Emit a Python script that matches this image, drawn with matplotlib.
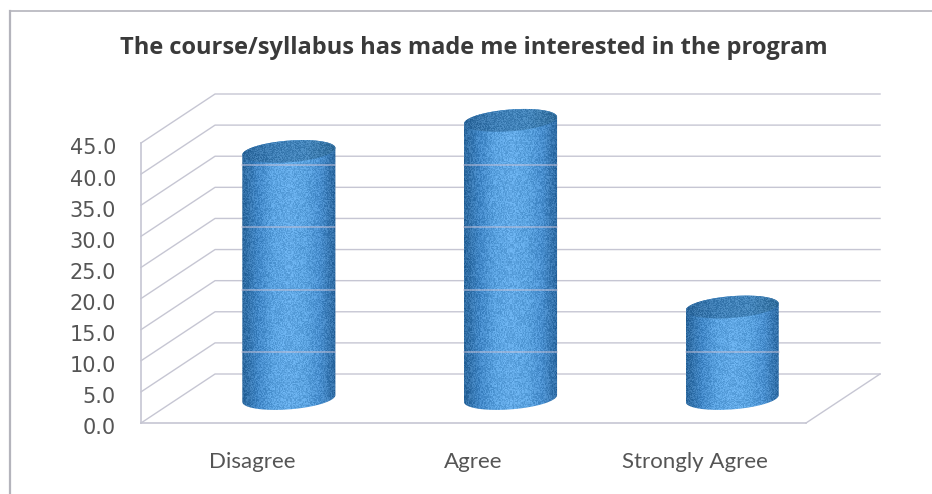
import numpy as np
import matplotlib
matplotlib.use('Agg')
import matplotlib.pyplot as plt
from matplotlib.colors import LinearSegmentedColormap
from matplotlib.lines import Line2D
from matplotlib.patches import Polygon
from matplotlib.transforms import ScaledTranslation

# data
categories = ['Disagree', 'Agree', 'Strongly Agree']
values = [39.7, 44.7, 14.7]
y_ticks = [0, 5, 10, 15, 20, 25, 30, 35, 40, 45]
band_levels = [7.5, 17.5, 27.5, 37.5]   # pale rings on the cylinders

# 3D look: how far the back wall is shifted from the front plane (data units)
depth_x = 0.334
depth_y = 7.875
half_w = 0.21
ell_b = 1.75
ell_tilt = 0.55

grid_col = '#c6c6d3'
side_cmap = LinearSegmentedColormap.from_list(
    'side', ['#2d699f', '#4288c8', '#5aa2e0', '#62a9e6', '#5ba3e0', '#4a90d0', '#2e6aa2'])
top_cmap = LinearSegmentedColormap.from_list(
    'top', ['#2f6a9f', '#3f7fb6', '#4485bb', '#336f9e'])

W, H = 932, 494
fig = plt.figure(figsize=(W / 100, H / 100), dpi=100, facecolor='white')
ax = fig.add_axes([141 / W, (H - 423) / H, 665 / W, 280 / H])
ax.set_xlim(-0.5, 2.5)
ax.set_ylim(0, 45)
ax.patch.set_visible(False)

for s in ['top', 'right']:
    ax.spines[s].set_visible(False)
for s in ['left', 'bottom']:
    ax.spines[s].set_color(grid_col)
    ax.spines[s].set_linewidth(1.2)

ax.set_yticks(y_ticks)
ax.set_yticklabels([f'{v:.1f}' for v in y_ticks], fontsize=15, color='#555555',
                   family='DejaVu Sans')
ax.set_xticks(range(len(categories)))
ax.set_xticklabels(categories, fontsize=16, color='#555555', family='Lato')
ax.tick_params(axis='y', length=0, pad=18)
ax.tick_params(axis='x', length=0, pad=21)

# y labels sit a little below their level in the scan
nudge = ScaledTranslation(0, -2.5 / 72, fig.dpi_scale_trans)
for lab in ax.get_yticklabels():
    lab.set_transform(lab.get_transform() + nudge)

# back wall and side wall
x0, x1 = ax.get_xlim()
for v in y_ticks:
    ax.plot([x0, x0 + depth_x, x1 + depth_x], [v, v + depth_y, v + depth_y],
            color=grid_col, lw=1, clip_on=False, zorder=1)
ax.plot([x1, x1 + depth_x], [0, depth_y], color=grid_col, lw=1, clip_on=False, zorder=1)


def noise(rows, cols):
    # fixed speckle so the cylinders look like the scanned print
    jj, ii = np.meshgrid(np.arange(cols), np.arange(rows))
    n = np.sin(ii * 12.9898 + jj * 78.233 + ii * jj * 0.37) * 43758.5453
    return n - np.floor(n) - 0.5


def draw_textured(xc, ylo, yhi, outline, cmap, zorder):
    rows, cols = 260, 93
    grad = np.tile(np.linspace(0, 1, cols), (rows, 1))
    rgb = cmap(grad)[:, :, :3] + 0.14 * noise(rows, cols)[:, :, None]
    im = ax.imshow(np.clip(rgb, 0, 1), extent=(xc - half_w, xc + half_w, ylo, yhi),
                   aspect='auto', interpolation='nearest', zorder=zorder)
    patch = Polygon(outline, closed=True, transform=ax.transData,
                    facecolor='none', edgecolor='none')
    ax.add_patch(patch)
    patch.set_clip_on(False)
    im.set_clip_box(fig.bbox)
    im.set_clip_path(patch)


t = np.linspace(0, 2 * np.pi, 121)
for i, val in enumerate(values):
    xc = i + depth_x / 2
    base = depth_y / 2
    top = base + val
    ex = xc + half_w * np.cos(t)
    ey = ell_b * np.sin(t) + ell_tilt * np.cos(t)

    # body: lower half of base ellipse, then up and over the top ellipse
    low = t[60:121]
    up = t[0:61]
    body_x = np.r_[xc + half_w * np.cos(low), xc + half_w * np.cos(up)]
    body_y = np.r_[base + ell_b * np.sin(low) + ell_tilt * np.cos(low),
                   top + ell_b * np.sin(up) + ell_tilt * np.cos(up)]
    draw_textured(xc, base - 3, top + 3, np.c_[body_x, body_y], side_cmap, 3)
    draw_textured(xc, top - 3, top + 3, np.c_[ex, top + ey], top_cmap, 4)

    for lev in band_levels:
        if lev < val:
            ax.plot([xc - half_w, xc + half_w], [base + lev, base + lev],
                    color='#c9c3d8', lw=1.2, alpha=0.6, clip_on=False, zorder=5)

ax.set_xlim(x0, x1)
ax.set_ylim(0, 45)

fig.text(474 / W, 1 - 48 / H, 'The course/syllabus has made me interested in the program',
         ha='center', va='center', fontsize=17, fontweight='bold', color='#3a3a3a',
         family='Open Sans')

# scanned frame, only left and top edges show
fig.add_artist(Line2D([9.5 / W, 9.5 / W], [0, 1 - 11.5 / H], color='#b4b4bc', lw=1.6))
fig.add_artist(Line2D([9.5 / W, 1], [1 - 11.5 / H, 1 - 11.5 / H], color='#b4b4bc', lw=1.2))

fig.savefig('out.png', dpi=100)
